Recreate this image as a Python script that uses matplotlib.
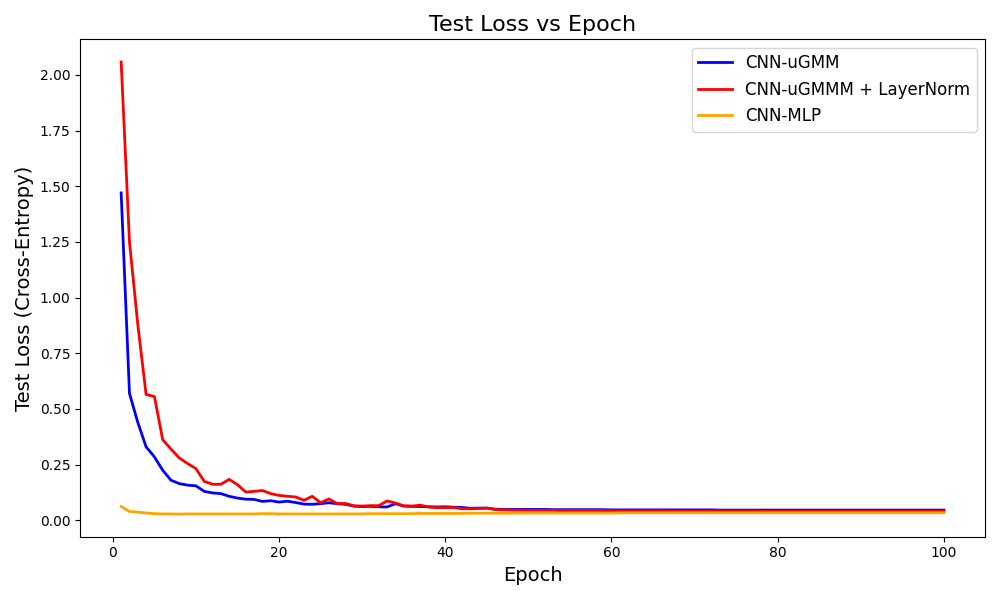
import matplotlib.pyplot as plt
import numpy as np

epochs = np.arange(1, 101)

# CNN-uGMM test loss per epoch
ugmm = [1.470, 0.570, 0.440, 0.330, 0.285, 0.225, 0.180, 0.165, 0.158, 0.155,
        0.130, 0.123, 0.120, 0.108, 0.100, 0.095, 0.094, 0.085, 0.088, 0.082,
        0.086, 0.080, 0.073, 0.072, 0.075, 0.079, 0.075, 0.072, 0.064, 0.062,
        0.063, 0.061, 0.060, 0.075, 0.064, 0.063, 0.062, 0.061, 0.060, 0.061,
        0.059, 0.058, 0.054, 0.055, 0.055, 0.050, 0.049, 0.049, 0.049, 0.049,
        0.049, 0.049, 0.048, 0.048, 0.048, 0.048, 0.048, 0.048, 0.048, 0.047,
        0.047, 0.047, 0.047, 0.047, 0.047, 0.047, 0.047, 0.047, 0.047, 0.047,
        0.047, 0.047, 0.046, 0.046, 0.046, 0.046, 0.046, 0.046, 0.046, 0.046,
        0.046, 0.046, 0.046, 0.046, 0.046, 0.046, 0.046, 0.046, 0.046, 0.046,
        0.046, 0.046, 0.046, 0.046, 0.046, 0.046, 0.046, 0.046, 0.046, 0.046]

# CNN-uGMMM + LayerNorm test loss per epoch
ugmm_ln = [2.058, 1.250, 0.880, 0.565, 0.556, 0.362, 0.320, 0.280, 0.255, 0.232,
           0.175, 0.162, 0.162, 0.184, 0.160, 0.127, 0.130, 0.134, 0.120, 0.112,
           0.108, 0.105, 0.090, 0.108, 0.079, 0.096, 0.075, 0.076, 0.065, 0.064,
           0.066, 0.066, 0.087, 0.078, 0.065, 0.064, 0.068, 0.060, 0.057, 0.057,
           0.058, 0.052, 0.052, 0.053, 0.055, 0.049, 0.047, 0.046, 0.046, 0.045,
           0.045, 0.045, 0.045, 0.044, 0.044, 0.044, 0.044, 0.044, 0.044, 0.043,
           0.043, 0.043, 0.043, 0.043, 0.043, 0.043, 0.042, 0.042, 0.042, 0.042,
           0.042, 0.042, 0.042, 0.042, 0.042, 0.042, 0.042, 0.041, 0.041, 0.041,
           0.041, 0.041, 0.041, 0.041, 0.041, 0.041, 0.041, 0.041, 0.041, 0.041,
           0.041, 0.041, 0.041, 0.041, 0.041, 0.041, 0.041, 0.041, 0.041, 0.041]

# CNN-MLP test loss per epoch
mlp = [0.062, 0.040, 0.037, 0.033, 0.030, 0.029, 0.029, 0.028, 0.029, 0.029,
       0.029, 0.029, 0.029, 0.029, 0.029, 0.029, 0.029, 0.030, 0.030, 0.029,
       0.029, 0.029, 0.029, 0.029, 0.029, 0.029, 0.029, 0.029, 0.029, 0.029,
       0.030, 0.030, 0.030, 0.030, 0.030, 0.030, 0.031, 0.031, 0.031, 0.031,
       0.031, 0.031, 0.032, 0.032, 0.032, 0.032, 0.032, 0.032, 0.033, 0.033,
       0.033, 0.033, 0.033, 0.033, 0.033, 0.033, 0.033, 0.033, 0.033, 0.033,
       0.034, 0.034, 0.034, 0.034, 0.034, 0.034, 0.034, 0.034, 0.034, 0.034,
       0.034, 0.034, 0.034, 0.034, 0.034, 0.034, 0.034, 0.034, 0.034, 0.034,
       0.034, 0.034, 0.034, 0.034, 0.034, 0.034, 0.034, 0.034, 0.034, 0.034,
       0.034, 0.034, 0.034, 0.034, 0.034, 0.034, 0.034, 0.034, 0.034, 0.034]

fig, ax = plt.subplots(figsize=(10, 6), dpi=100)
ax.plot(epochs, ugmm, c='blue', lw=2, label='CNN-uGMM')
ax.plot(epochs, ugmm_ln, c='red', lw=2, label='CNN-uGMMM + LayerNorm')
ax.plot(epochs, mlp, c='orange', lw=2, label='CNN-MLP')

ax.set_title('Test Loss vs Epoch', fontsize=16)
ax.set_xlabel('Epoch', fontsize=14)
ax.set_ylabel('Test Loss (Cross-Entropy)', fontsize=14)
ax.legend(fontsize=12, loc='upper right')

fig.tight_layout()
fig.savefig('out.png')
